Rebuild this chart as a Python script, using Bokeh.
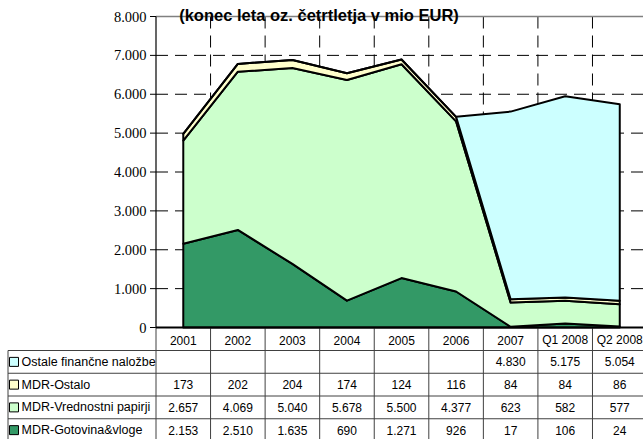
import numpy as np
from bokeh.plotting import figure
from bokeh.models import Range1d
from bokeh.core.properties import value
from bokeh.embed import file_html
from bokeh.resources import INLINE

# ---------------- data ----------------
categories = ["2001", "2002", "2003", "2004", "2005", "2006", "2007", "Q1 2008", "Q2 2008"]
gotovina = [2153, 2510, 1635, 690, 1271, 926, 17, 106, 24]
vrednostni = [2657, 4069, 5040, 5678, 5500, 4377, 623, 582, 577]
ostalo = [173, 202, 204, 174, 124, 116, 84, 84, 86]
ostale_nalozbe = [None, None, None, None, None, None, 4830, 5175, 5054]
series_names = ["MDR-Gotovina&vloge", "MDR-Vrednostni papirji", "MDR-Ostalo", "Ostale finančne naložbe"]
series_colors = ["#339966", "#CCFFCC", "#FFFFCC", "#CCFFFF"]
y_ticks = [0, 1000, 2000, 3000, 4000, 5000, 6000, 7000, 8000]
y_tick_labels = ["0", "1.000", "2.000", "3.000", "4.000", "5.000", "6.000", "7.000", "8.000"]
title_text = "(konec leta oz. četrtletja v mio EUR)"

# ---------------- layout constants (canvas pixels) ----------------
W, H = 643, 439
X0 = 155.5          # left edge of plot area
COLW = 54.56        # width of one category column
Y0 = 327            # pixel row of value 0
YTOP = 16           # pixel row of top value
HEADER_BOT = 350
ROW_H = 22.75
N = len(categories)
ymax = y_ticks[-1]
k = (Y0 - YTOP) / ymax
DASH = "12 7"


def gx(pix):
    return (pix - X0) / COLW


FONT = value("Liberation Sans")
series = [gotovina, vrednostni, ostalo, ostale_nalozbe]

p = figure(width=W, height=H,
           x_range=Range1d(gx(0), gx(W)),
           y_range=Range1d(-(H - Y0) / k, ymax + YTOP / k),
           output_backend="svg", toolbar_location=None,
           x_axis_location=None, y_axis_location=None, min_border=0)
p.extra_y_ranges = {"tbl": Range1d(H, 0)}
p.outline_line_color = None
p.grid.visible = False
p.background_fill_color = "white"

x_end = gx(W + 5)

# gridlines
hg = y_ticks[1:-1]
p.segment(x0=[0] * len(hg), y0=hg, x1=[x_end] * len(hg), y1=hg,
          line_color="black", line_dash=DASH, line_width=1)
vb = list(range(1, N))
p.segment(x0=vb, y0=[ymax] * len(vb), x1=vb, y1=[0] * len(vb),
          line_color="black", line_dash=DASH, line_width=1)

# stacked areas
xc = np.arange(N) + 0.5
bottom = np.zeros(N)
for vals, c in zip(series, series_colors):
    v = np.array([0 if x is None else x for x in vals], dtype=float)
    top = bottom + v
    xs = list(xc) + list(xc[::-1])
    ys = list(top) + list(bottom[::-1])
    p.patch(xs, ys, fill_color=c, line_color="black", line_width=2, line_join="round")
    bottom = top

# top border
p.segment(x0=[0], y0=[ymax], x1=[x_end], y1=[ymax], line_color="#808080", line_width=1.5)
# y axis
p.segment(x0=[0], y0=[0], x1=[0], y1=[ymax], line_color="black", line_width=1.2)
p.segment(x0=[gx(X0 - 6)] * len(y_ticks), y0=y_ticks, x1=[0] * len(y_ticks), y1=y_ticks,
          line_color="black", line_width=1)
p.text(x=[gx(146)] * len(y_ticks), y=y_ticks, text=y_tick_labels, text_align="right",
       text_baseline="middle", text_font=value("Liberation Serif"), text_font_size="14.5px",
       text_color="black")

# title
p.text(x=[gx(318.5)], y=[ymax + (YTOP - 14.5) / k], text=[title_text], text_align="center",
       text_baseline="alphabetic", text_font=FONT, text_font_size="16.5px",
       text_font_style="bold", text_color="black")

# ---------------- data table ----------------
lc = "#404040"
row_tops = [HEADER_BOT + i * ROW_H for i in range(4)]
tbl_bottom = HEADER_BOT + 4 * ROW_H
left_edge = gx(7.5)

p.segment(x0=[left_edge] * 4, y0=row_tops, x1=[x_end] * 4, y1=row_tops,
          line_color=lc, line_width=1, y_range_name="tbl")
vx = list(range(0, N))
p.segment(x0=vx, y0=[Y0] * len(vx), x1=vx, y1=[tbl_bottom] * len(vx),
          line_color=lc, line_width=1, y_range_name="tbl")
p.segment(x0=[left_edge], y0=[HEADER_BOT], x1=[left_edge], y1=[tbl_bottom],
          line_color=lc, line_width=1, y_range_name="tbl")
# x axis line
p.segment(x0=[0], y0=[0], x1=[x_end], y1=[0], line_color="black", line_width=2)

# header labels
p.text(x=list(xc), y=[(Y0 + HEADER_BOT) / 2 + 1] * N, text=categories, text_align="center",
       text_baseline="middle", text_font=FONT, text_font_size="12px", text_color="black",
       y_range_name="tbl")

rows = list(zip(series_names, series, series_colors))[::-1]
for i, (name, vals, c) in enumerate(rows):
    yc = row_tops[i] + ROW_H / 2
    p.scatter(x=[gx(13.5)], y=[yc], marker="square", size=9,
              fill_color=c, line_color="black", line_width=1, y_range_name="tbl")
    p.text(x=[gx(21)], y=[yc], text=[name], text_align="left",
           text_baseline="middle", text_font=FONT, text_font_size="12.5px", text_color="black",
           y_range_name="tbl")
    labels = ["" if v is None else f"{v:,}".replace(",", ".") for v in vals]
    p.text(x=list(xc), y=[yc] * N, text=labels, text_align="center",
           text_baseline="middle", text_font=FONT, text_font_size="12px", text_color="black",
           y_range_name="tbl")

open("out.html", "w").write(file_html(p, INLINE))
